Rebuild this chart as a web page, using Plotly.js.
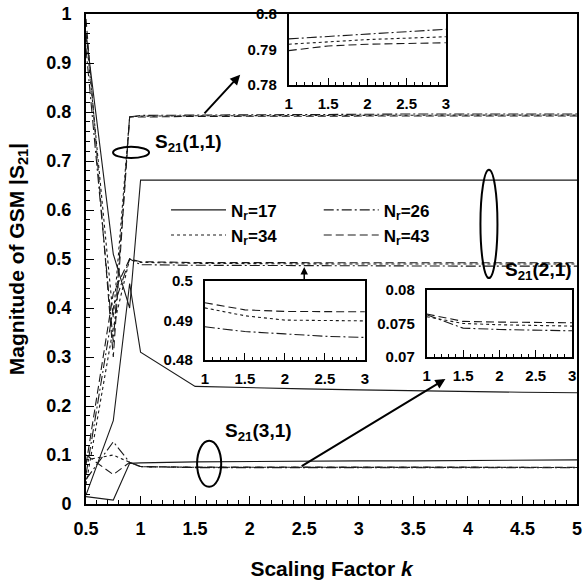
<!DOCTYPE html>
<html>
<head>
<meta charset="utf-8">
<script src="https://cdn.plot.ly/plotly-3.0.1.min.js"></script>
<style>html,body{margin:0;padding:0;background:#fff;}</style>
</head>
<body>
<div id="chart" style="width:583px;height:580px;"></div>
<script>
// Scaling factor samples
const k = [0.5, 0.75, 0.9, 1, 1.5, 2, 2.5, 3, 3.5, 4, 4.5, 5];

// S21(1,1)
const s11_nr17 = [0.96, 0.51, 0.40, 0.661, 0.661, 0.661, 0.661, 0.661, 0.661, 0.661, 0.661, 0.661];
const s11_nr26 = [0.93, 0.33, 0.79, 0.7930, 0.7937, 0.7945, 0.7950, 0.7957, 0.7959, 0.7960, 0.7960, 0.7960];
const s11_nr34 = [0.96, 0.38, 0.79, 0.7915, 0.7922, 0.7928, 0.7932, 0.7936, 0.7937, 0.7937, 0.7937, 0.7937];
const s11_nr43 = [0.99, 0.30, 0.79, 0.7897, 0.7910, 0.7915, 0.7918, 0.7919, 0.7919, 0.7919, 0.7919, 0.7919];

// S21(2,1)
const s21_nr17 = [0.018, 0.17, 0.45, 0.31, 0.24, 0.237, 0.235, 0.233, 0.231, 0.229, 0.228, 0.227];
const s21_nr26 = [0.06, 0.40, 0.50, 0.4884, 0.4872, 0.4866, 0.4860, 0.4857, 0.4856, 0.4855, 0.4855, 0.4855];
const s21_nr34 = [0.04, 0.36, 0.50, 0.4932, 0.4912, 0.4901, 0.4900, 0.4899, 0.4899, 0.4899, 0.4899, 0.4899];
const s21_nr43 = [0.08, 0.43, 0.50, 0.4945, 0.4927, 0.4923, 0.4922, 0.4922, 0.4922, 0.4922, 0.4922, 0.4922];

// S21(3,1)
const s31_nr17 = [0.015, 0.008, 0.083, 0.084, 0.086, 0.087, 0.087, 0.088, 0.088, 0.089, 0.089, 0.090];
const s31_nr26 = [0.05, 0.127, 0.085, 0.0763, 0.0743, 0.0741, 0.0740, 0.0739, 0.0739, 0.0739, 0.0739, 0.0739];
const s31_nr34 = [0.09, 0.10, 0.085, 0.0760, 0.0750, 0.0748, 0.0747, 0.0746, 0.0746, 0.0746, 0.0746, 0.0746];
const s31_nr43 = [0.10, 0.06, 0.085, 0.0764, 0.0753, 0.0752, 0.0751, 0.0751, 0.0751, 0.0751, 0.0751, 0.0751];

const legendNames = ['N<sub>r</sub>=17', 'N<sub>r</sub>=26', 'N<sub>r</sub>=34', 'N<sub>r</sub>=43'];
const legendIds = ['legend', 'legend2', 'legend', 'legend2'];

const dashes = ['solid', '10px,3px,2px,3px', '3px,3px', '8px,4px'];
const lineColor = '#1a1a1a';
const FONT = '"Liberation Sans", Arial, sans-serif';

const groups = [
  [s11_nr17, s11_nr26, s11_nr34, s11_nr43],
  [s21_nr17, s21_nr26, s21_nr34, s21_nr43],
  [s31_nr17, s31_nr26, s31_nr34, s31_nr43]
];

const traces = [];
groups.forEach((g, gi) => {
  g.forEach((ys, ni) => {
    traces.push({
      x: k, y: ys, type: 'scatter', mode: 'lines',
      name: legendNames[ni], legend: legendIds[ni],
      showlegend: gi === 0,
      line: {color: lineColor, width: 1.1, dash: dashes[ni]},
      hoverinfo: 'skip'
    });
  });
});

// Insets: k from 1 to 3, Nr=26, 34, 43
const insetIdx = [3, 4, 5, 6, 7];
const kIn = insetIdx.map(i => k[i]);
groups.forEach((g, gi) => {
  for (let ni = 1; ni < 4; ni++) {
    traces.push({
      x: kIn, y: insetIdx.map(i => g[ni][i]), type: 'scatter', mode: 'lines',
      xaxis: 'x' + (gi + 2), yaxis: 'y' + (gi + 2),
      showlegend: false, hoverinfo: 'skip',
      line: {color: lineColor, width: 1.1, dash: dashes[ni]}
    });
  }
});

const bold = {family: FONT, size: 18, color: '#000', weight: 'bold'};
const boldS = {family: FONT, size: 15, color: '#000', weight: 'bold'};
const legFont = {family: FONT, size: 17, weight: 'bold', color: '#000'};

function insetX(anchor, domain) {
  return {domain: domain, anchor: anchor, range: [1, 3], dtick: 0.5, tick0: 1,
    ticks: 'inside', ticklen: 7, tickwidth: 1, tickcolor: '#000',
    minor: {dtick: 0.1, ticks: 'inside', ticklen: 3, tickcolor: '#000'},
    showline: true, linewidth: 2, linecolor: '#000', mirror: true, ticklabelstandoff: 4,
    showgrid: false, zeroline: false, tickfont: boldS, fixedrange: true};
}
function insetY(anchor, domain, range, dtick) {
  return {domain: domain, anchor: anchor, range: range, dtick: dtick, tick0: range[0],
    ticks: '', showline: true, linewidth: 2, linecolor: '#000', mirror: true, ticklabelstandoff: 7,
    showgrid: false, zeroline: false, tickfont: boldS, fixedrange: true};
}

const layout = {
  width: 583, height: 580,
  margin: {l: 86, r: 6, t: 14, b: 76},
  paper_bgcolor: '#fff', plot_bgcolor: '#fff',
  font: {family: FONT, color: '#000'},
  showlegend: true,
  legend: {
    x: 0.163, y: 0.636, xanchor: 'left', yanchor: 'top',
    itemwidth: 55, font: legFont, bgcolor: 'rgba(0,0,0,0)', tracegroupgap: 0
  },
  legend2: {
    x: 0.474, y: 0.636, xanchor: 'left', yanchor: 'top',
    itemwidth: 55, font: legFont, bgcolor: 'rgba(0,0,0,0)', tracegroupgap: 0
  },
  xaxis: {
    domain: [0, 1], range: [0.5, 5], dtick: 0.5, tick0: 0.5,
    ticks: 'inside', ticklen: 8, tickwidth: 1, tickcolor: '#000',
    minor: {dtick: 0.1, ticks: 'inside', ticklen: 4, tickcolor: '#000'},
    showline: true, linewidth: 2, linecolor: '#000', mirror: true, ticklabelstandoff: 7,
    showgrid: false, zeroline: false, tickfont: bold,
    title: {text: 'Scaling Factor <i>k</i>', font: {family: FONT, size: 21, weight: 'bold', color: '#000'}, standoff: 27}
  },
  yaxis: {
    domain: [0, 1], range: [0, 1], dtick: 0.1, tick0: 0,
    ticks: 'inside', ticklen: 8, tickwidth: 1, tickcolor: '#000',
    minor: {dtick: 0.02, ticks: 'inside', ticklen: 4, tickcolor: '#000'},
    showline: true, linewidth: 2, linecolor: '#000', mirror: true, ticklabelstandoff: 9,
    showgrid: false, zeroline: false, tickfont: bold,
    title: {text: 'Magnitude of GSM |S<sub>21</sub>|', font: {family: FONT, size: 21, weight: 'bold', color: '#000'}, standoff: 16}
  },
  xaxis2: insetX('y2', [0.413, 0.733]),
  yaxis2: insetY('x2', [0.855, 1.0], [0.78, 0.8], 0.01),
  xaxis3: insetX('y3', [0.242, 0.568]),
  yaxis3: insetY('x3', [0.294, 0.455], [0.48, 0.5], 0.01),
  xaxis4: insetX('y4', [0.694, 0.990]),
  yaxis4: insetY('x4', [0.300, 0.437], [0.07, 0.08], 0.005),
  shapes: [
    {type: 'circle', xref: 'x', yref: 'y', x0: 0.748, x1: 1.078, y0: 0.706, y1: 0.729, line: {color: '#000', width: 2}},
    {type: 'circle', xref: 'x', yref: 'y', x0: 4.115, x1: 4.271, y0: 0.461, y1: 0.682, line: {color: '#000', width: 2}},
    {type: 'circle', xref: 'x', yref: 'y', x0: 1.518, x1: 1.739, y0: 0.035, y1: 0.129, line: {color: '#000', width: 2}}
  ],
  annotations: [
    {xref: 'x', yref: 'y', x: 1.436, y: 0.737, text: 'S<sub>21</sub>(1,1)', showarrow: false, font: {family: FONT, size: 19, weight: 'bold', color: '#000'}},
    {xref: 'x', yref: 'y', x: 4.647, y: 0.4755, text: 'S<sub>21</sub>(2,1)', showarrow: false, font: {family: FONT, size: 19, weight: 'bold', color: '#000'}},
    {xref: 'x', yref: 'y', x: 2.078, y: 0.147, text: 'S<sub>21</sub>(3,1)', showarrow: false, font: {family: FONT, size: 19, weight: 'bold', color: '#000'}},
    {xref: 'x', yref: 'y', axref: 'x', ayref: 'y', x: 1.913, y: 0.876, ax: 1.573, ay: 0.794, text: '', showarrow: true, arrowhead: 2, arrowsize: 1, arrowwidth: 2, arrowcolor: '#000'},
    {xref: 'x', yref: 'y', axref: 'x', ayref: 'y', x: 2.5, y: 0.4837, ax: 2.5, ay: 0.455, text: '', showarrow: true, arrowhead: 2, arrowsize: 1, arrowwidth: 1.5, arrowcolor: '#000'},
    {xref: 'x', yref: 'y', axref: 'x', ayref: 'y', x: 3.794, y: 0.255, ax: 2.463, ay: 0.0755, text: '', showarrow: true, arrowhead: 2, arrowsize: 1, arrowwidth: 2, arrowcolor: '#000'}
  ]
};

Plotly.newPlot('chart', traces, layout, {displayModeBar: false, staticPlot: true});
</script>
</body>
</html>
